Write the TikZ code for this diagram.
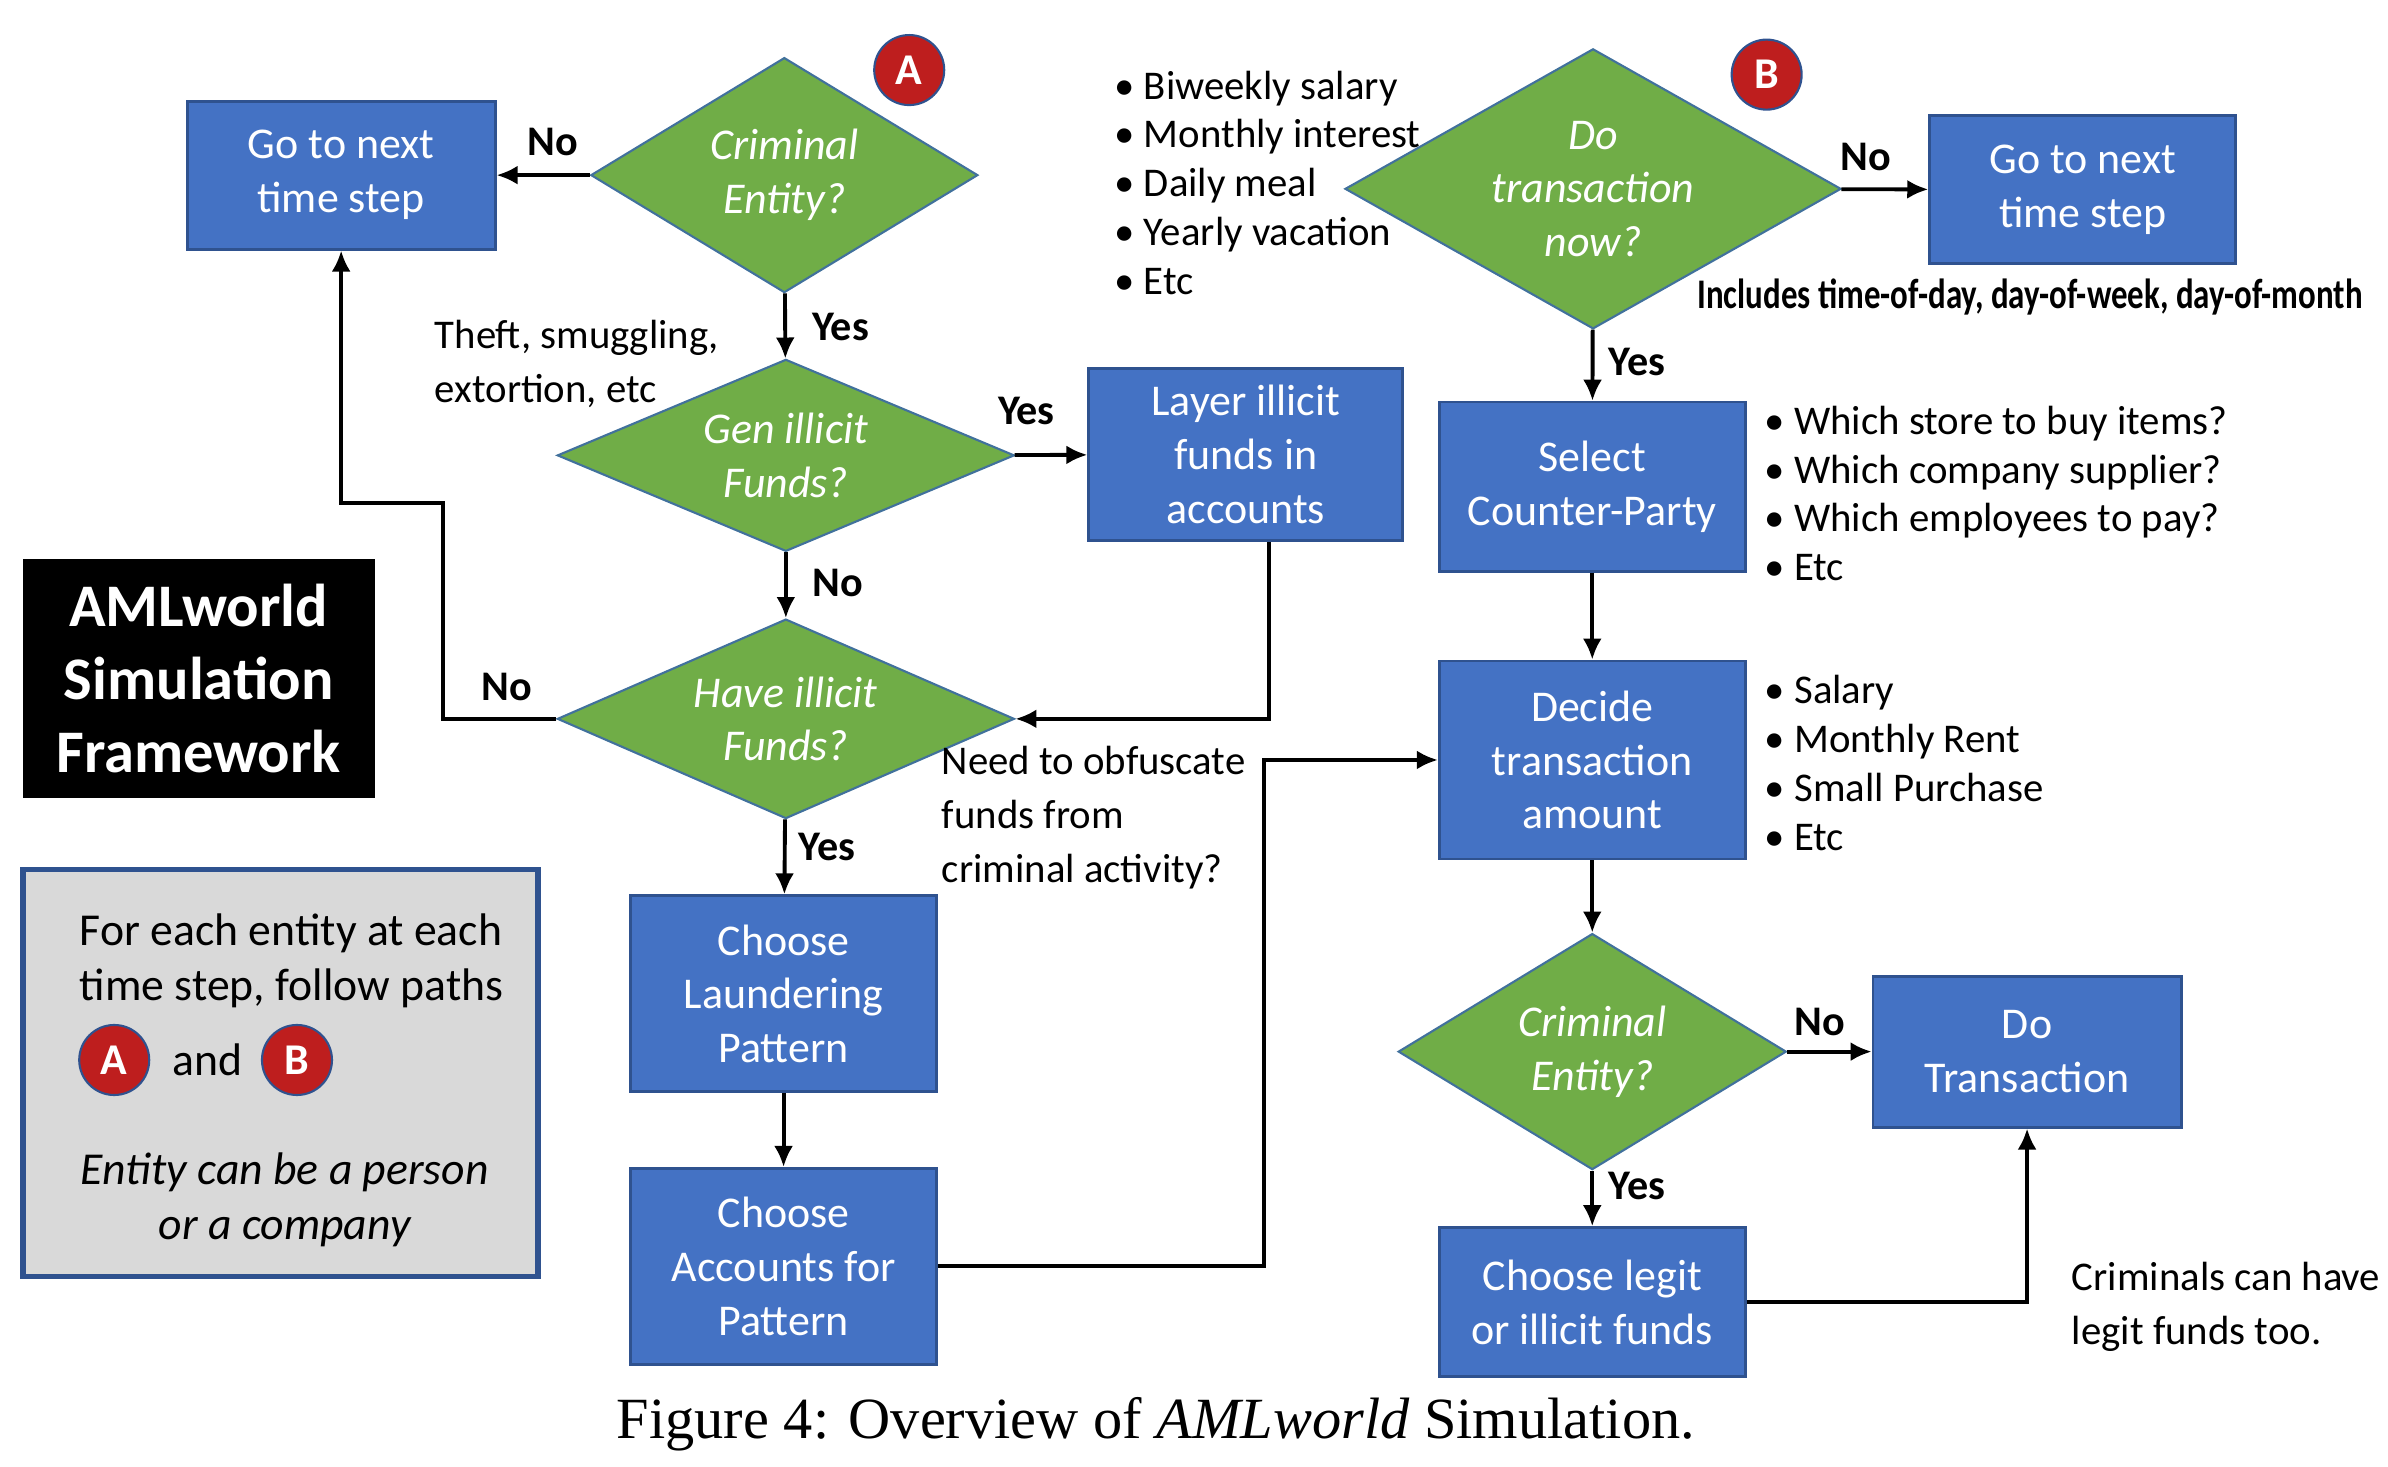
\documentclass[tikz,border=0pt]{standalone}
\usepackage{fontspec}
\setmainfont{Carlito}
\newfontfamily\capfont{Liberation Serif}
\usetikzlibrary{arrows.meta,shapes.geometric}
\usepackage{xcolor}

\definecolor{boxblue}{RGB}{68,114,196}
\definecolor{boxedge}{RGB}{47,82,143}
\definecolor{decgreen}{RGB}{112,173,71}
\definecolor{decedge}{RGB}{65,113,156}
\definecolor{badgered}{RGB}{190,30,30}
\definecolor{notegray}{RGB}{217,217,217}
\def\px{0.01523cm}
\newcommand{\itm}[1]{\makebox[0.3cm][l]{\textbullet}#1}

\begin{document}
\begin{tikzpicture}[x=\px,y=-\px,
	procbox/.style={rectangle,draw=boxedge,line width=0.8pt,fill=boxblue,text=white,align=center,inner sep=0pt,font=\fontsize{12.5}{15.3}\selectfont},
	decision/.style={diamond,draw=decedge,line width=0.6pt,fill=decgreen,text=white,align=center,inner sep=0pt,aspect=1.6,font=\fontsize{12.5}{15.3}\selectfont\itshape},
	badge/.style={circle,draw=boxedge,line width=0.6pt,fill=badgered,text=white,inner sep=0pt,minimum size=0.70cm,font=\fontsize{12.5}{15}\selectfont\bfseries},
	lbl/.style={font=\fontsize{12}{14}\selectfont\bfseries},
	remark/.style={align=left,anchor=west,inner sep=0pt,font=\fontsize{11.6}{15.3}\selectfont},
	bullets/.style={align=left,anchor=west,inner sep=0pt,font=\fontsize{11.6}{13.9}\selectfont},
	arr/.style={-{Latex[length=0.21cm,width=0.19cm]},line width=1.1pt},
	wire/.style={line width=1.1pt}]

	% frame
	\useasboundingbox (0,0) rectangle (1568,962.6);

	% path A
	\node[procbox,minimum width=3.08cm,minimum height=1.48cm] (nextA) at (224,115) {Go to next\\time step};
	\node[decision,minimum width=3.87cm,minimum height=2.35cm] (critA) at (515,115) {Criminal\\Entity?};
	\node[badge] (badgeA) at (597,46) {A};
	\node[decision,minimum width=4.57cm,minimum height=1.92cm] (gen) at (516,299) {Gen illicit\\Funds?};
	\node[procbox,minimum width=3.14cm,minimum height=1.72cm] (layer) at (818,298.5) {Layer illicit\\funds in\\accounts};
	\node[decision,minimum width=4.57cm,minimum height=1.95cm] (have) at (516,472) {Have illicit\\Funds?};
	\node[procbox,minimum width=3.06cm,minimum height=1.96cm] (pattern) at (514.5,652.5) {Choose\\Laundering\\Pattern};
	\node[procbox,minimum width=3.06cm,minimum height=1.96cm] (accts) at (514.5,831.5) {Choose\\Accounts for\\Pattern};

	\draw[arr] (critA) -- (nextA);
	\node[lbl] (noA) at (363,93) {No};
	\draw[arr] (critA) -- (gen);
	\node[lbl] (yesA) at (552,215) {Yes};
	\draw[arr] (gen) -- (layer);
	\node[lbl] (yesGen) at (674,270) {Yes};
	\draw[arr] (gen) -- (have);
	\node[lbl] (noGen) at (550,383) {No};
	\draw[arr] ([xshift=0.23cm]layer.south) |- (have.east);
	\draw[arr] (have.west) -- (291,472) -- (291,330) -| (nextA.south);
	\node[lbl] (noHave) at (333,451) {No};
	\draw[arr] (have) -- (pattern);
	\node[lbl] (yesHave) at (543,556) {Yes};
	\draw[arr] (pattern) -- (accts);

	\node[remark] (theft) at (285,239) {Theft, smuggling,\\extortion, etc};
	\node[remark] (obfus) at (618,537) {Need to obfuscate\\funds from\\criminal activity?};

	% title and key
	\node[fill=black,text=white,align=center,inner sep=0pt,minimum width=3.52cm,minimum height=2.39cm,font=\fontsize{17.2}{20.7}\selectfont\bfseries] (aml) at (130.5,445.5) {AMLworld\\Simulation\\Framework};
	\node[draw=boxedge,line width=1.6pt,fill=notegray,minimum width=5.15cm,minimum height=4.07cm] (note) at (184,704.5) {};
	\node[remark,font=\fontsize{13}{15.6}\selectfont] (noteTop) at (52,631) {For each entity at each\\time step, follow paths};
	\node[badge] (keyA) at (75,696) {A};
	\node[font=\fontsize{13}{15.6}\selectfont] (keyAnd) at (136,696) {and};
	\node[badge] (keyB) at (195,696) {B};
	\node[align=center,font=\fontsize{13}{15.6}\selectfont\itshape] (noteBot) at (187,788) {Entity can be a person\\or a company};

	% path B
	\node[decision,minimum width=4.96cm,minimum height=2.80cm] (dotx) at (1046,124) {Do\\transaction\\now?};
	\node[badge] (badgeB) at (1160,49) {B};
	\node[procbox,minimum width=3.06cm,minimum height=1.48cm] (nextB) at (1367.5,124.5) {Go to next\\time step};
	\node[procbox,minimum width=3.06cm,minimum height=1.69cm] (select) at (1045.5,319.5) {Select\\Counter-Party};
	\node[procbox,minimum width=3.06cm,minimum height=1.98cm] (decide) at (1045.5,499) {Decide\\transaction\\amount};
	\node[decision,minimum width=3.88cm,minimum height=2.36cm] (critB) at (1045.5,690.5) {Criminal\\Entity?};
	\node[procbox,minimum width=3.08cm,minimum height=1.51cm] (doT) at (1331,690.5) {Do\\Transaction};
	\node[procbox,minimum width=3.06cm,minimum height=1.49cm] (choose) at (1045.5,855) {Choose legit\\or illicit funds};

	\draw[arr] (dotx) -- (nextB);
	\node[lbl] (noB) at (1225,103) {No};
	\draw[arr] (dotx) -- (select);
	\node[lbl] (yesB) at (1075,238) {Yes};
	\draw[arr] (select) -- (decide);
	\draw[arr] (accts.east) -- (830,831.5) |- (decide.west);
	\draw[arr] (decide) -- (critB);
	\draw[arr] (critB) -- (doT);
	\node[lbl] (noC) at (1195,671) {No};
	\draw[arr] (critB) -- (choose);
	\node[lbl] (yesC) at (1075,779) {Yes};
	\draw[arr] (choose.east) -| (doT.south);

	\node[bullets] (when) at (731,120) {\itm{Biweekly salary}\\\itm{Monthly interest}\\\itm{Daily meal}\\\itm{Yearly vacation}\\\itm{Etc}};
	\node[lbl] (incl) at (1333,195) {\scalebox{0.78}[1]{Includes time-of-day, day-of-week, day-of-month}};
	\node[bullets] (whom) at (1158,324) {\itm{Which store to buy items?}\\\itm{Which company supplier?}\\\itm{Which employees to pay?}\\\itm{Etc}};
	\node[bullets] (howmuch) at (1158,501) {\itm{Salary}\\\itm{Monthly Rent}\\\itm{Small Purchase}\\\itm{Etc}};
	\node[remark] (crimnote) at (1360,858) {Criminals can have\\legit funds too.};

	% caption
	\node[font=\capfont\fontsize{16.6}{19}\selectfont] (caption) at (759,935) {Figure 4: Overview of \textit{AMLworld} Simulation.};

\end{tikzpicture}
\end{document}
